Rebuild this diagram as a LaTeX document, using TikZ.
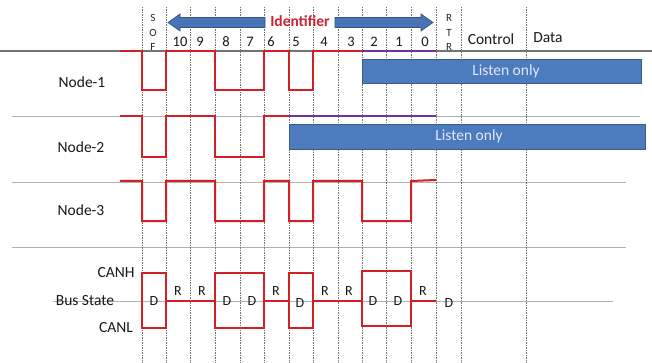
\documentclass[tikz,border=0pt]{standalone}
\usepackage{fontspec}
\setmainfont{Carlito}
\definecolor{wavered}{RGB}{210,32,38}
\definecolor{idred}{RGB}{205,35,50}
\definecolor{boxblue}{RGB}{76,124,190}
\definecolor{boxedge}{RGB}{56,93,138}
\definecolor{arrblue}{RGB}{72,116,182}
\definecolor{arredge}{RGB}{50,86,140}
\definecolor{purp}{RGB}{112,48,160}
\tikzset{
  vgrid/.style={draw=black!55, line width=0.6pt, dash pattern=on 1.5pt off 1pt},
  hgrid/.style={draw=black!30, line width=0.7pt},
  topline/.style={draw=black!55, line width=1.2pt},
  wave/.style={draw=wavered, line width=2pt, line join=miter},
  purpline/.style={draw=purp, line width=1.6pt},
  lbl/.style={font=\fontsize{15.5}{18}\selectfont, text=black!90, inner sep=0pt},
  num/.style={font=\fontsize{14.5}{16}\selectfont, text=black!90, inner sep=0pt},
  letter/.style={font=\fontsize{11}{12}\selectfont, text=black!85, inner sep=0pt},
  bit/.style={font=\fontsize{14}{16}\selectfont, text=black!90, inner sep=0pt},
  listen/.style={fill=boxblue, draw=boxedge, line width=0.8pt},
  listentext/.style={text=white!90!blue, font=\fontsize{15.5}{18}\selectfont, inner sep=0pt},
  idtext/.style={text=idred, font=\bfseries\fontsize{15.5}{18}\selectfont, inner sep=1pt},
  idarrow/.style={fill=arrblue, draw=arredge, line width=0.7pt, line join=miter}
}
\begin{document}
\begin{tikzpicture}[x=1pt,y=-1pt]
\useasboundingbox (0,0) rectangle (652,363);
\fill[white] (0,0) rectangle (652,363);

% horizontal grid lines
\draw[hgrid] (12,116) -- (640,116);
\draw[hgrid] (12,182) -- (626,182);
\draw[hgrid] (12,247) -- (626,247);
\draw[hgrid] (53,301) -- (613,301);

% vertical dashed lines
\foreach \x in {142,166,190,215,240,264,289,313,338,362,386,411,436,461,526}
  \draw[vgrid] (\x,7) -- (\x,363);

% header text
\node[letter] (s1) at (153,18) {S};
\node[letter] (o1) at (153,33) {O};
\node[letter] (f1) at (153,47) {F};
\node[letter] (r1) at (449,18) {R};
\node[letter] (t2) at (449,33) {T};
\node[letter] (r2) at (449,47) {R};
\foreach \n/\x in {10/180,9/200,8/226,7/250,6/271,5/296,4/324,3/351,2/374,1/399,0/425}
  \node[num] (b\n) at (\x,42) {\n};
\node[lbl] (ctrl) at (491,39) {Control};
\node[lbl] (data) at (548,38) {Data};

\draw[topline] (0,51) -- (652,51);

% Identifier arrow
\node[idtext] (ident) at (300,21) {Identifier};
\filldraw[idarrow] (265,17.5) -- (180,17.5) -- (180,14) -- (168,22.5) -- (180,31) -- (180,27.5) -- (265,27.5) -- cycle;
\filldraw[idarrow] (335,17.5) -- (421,17.5) -- (421,14) -- (433,22.5) -- (421,31) -- (421,27.5) -- (335,27.5) -- cycle;

% Listen only boxes
\filldraw[listen] (362,59) rectangle (641,83);
\node[listentext] (lo1) at (506,71.5) {Listen only};
\filldraw[listen] (289,124) rectangle (645,149);
\node[listentext] (lo2) at (469,136.5) {Listen only};

% purple (listen) lines
\draw[purpline] (362,51) -- (436,51);
\draw[purpline] (289,116) -- (436,116);

% waveforms
\draw[wave] (120,51) -- (142,51) -- (142,90) -- (166,90) -- (166,51) -- (215,51) -- (215,90) -- (264,90) -- (264,51) -- (289,51) -- (289,90) -- (313,90) -- (313,51) -- (362,51);
\draw[wave] (120,116) -- (142,116) -- (142,157) -- (166,157) -- (166,116) -- (215,116) -- (215,157) -- (264,157) -- (264,116) -- (289,116);
\draw[wave] (120,181) -- (142,181) -- (142,221) -- (166,221) -- (166,181) -- (215,181) -- (215,221) -- (264,221) -- (264,181) -- (289,181) -- (289,221) -- (313,221) -- (313,181) -- (362,181) -- (362,221) -- (411,221) -- (411,181) -- (436,180);

% bus state
\draw[wave] (142,273) rectangle (166,328);
\draw[wave] (215,273) rectangle (264,328);
\draw[wave] (289,273) rectangle (313,328);
\draw[wave] (362,271) rectangle (411,326);
\draw[wave] (166,301) -- (215,301);
\draw[wave] (264,301) -- (289,301);
\draw[wave] (313,301) -- (362,301);
\draw[wave] (411,301) -- (436,301);

% node labels
\node[lbl] (n1) at (82,82) {Node-1};
\node[lbl] (n2) at (81,147) {Node-2};
\node[lbl] (n3) at (81,210) {Node-3};
\node[lbl] (canh) at (116,273) {CANH};
\node[lbl] (bus) at (85,301) {Bus State};
\node[lbl] (canl) at (116,328) {CANL};

% bit labels
\node[bit] (d1) at (154,301) {D};
\node[bit] (r10) at (178,291) {R};
\node[bit] (r9) at (202,291) {R};
\node[bit] (d8) at (227,301) {D};
\node[bit] (d7) at (252,301) {D};
\node[bit] (r6) at (276,291) {R};
\node[bit] (d5) at (300,303) {D};
\node[bit] (r4) at (325,291) {R};
\node[bit] (r3) at (349,291) {R};
\node[bit] (d2) at (373,301) {D};
\node[bit] (d1b) at (398,301) {D};
\node[bit] (r0) at (423,291) {R};
\node[bit] (dr) at (449,303) {D};
\end{tikzpicture}
\end{document}
